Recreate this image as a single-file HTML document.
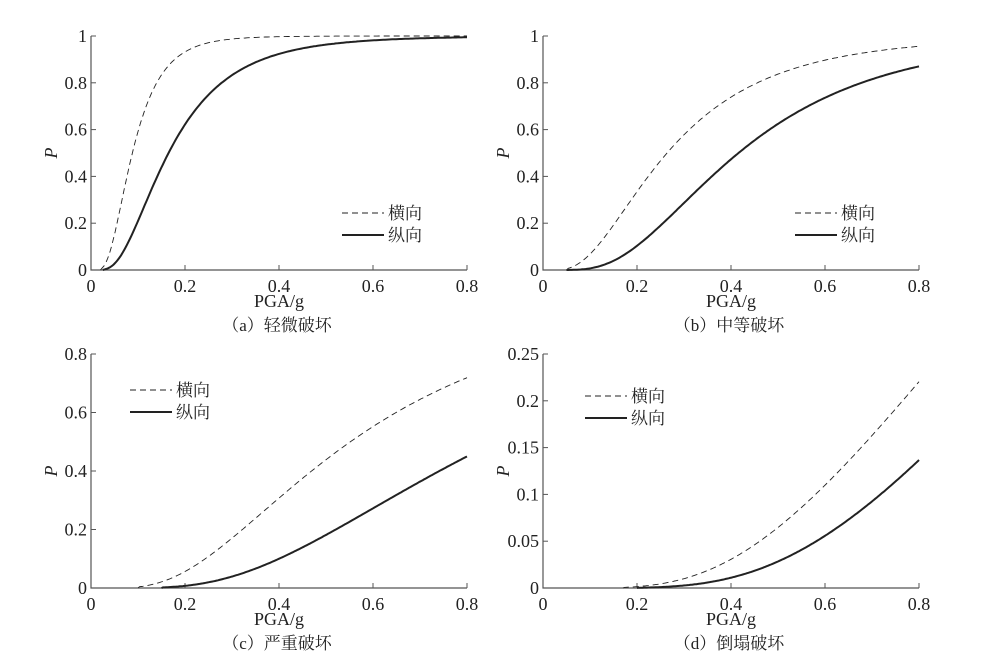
<!DOCTYPE html>
<html><head><meta charset="utf-8"><style>
html,body{margin:0;padding:0;background:#fff;}
svg{display:block;font-family:"Liberation Serif","Times New Roman",Times,serif;}
text{font-family:"Liberation Serif","Times New Roman",Times,serif;fill:#222;}
text.cj{font-family:"Liberation Serif","Noto Serif CJK SC","Noto Sans CJK SC",serif;}
</style></head><body>
<svg id="s" width="997" height="669" viewBox="0 0 997 669" xmlns="http://www.w3.org/2000/svg"></svg>
<script>
function erf(x){var s=x<0?-1:1;x=Math.abs(x);var t=1/(1+0.3275911*x);
var y=1-(((((1.061405429*t-1.453152027)*t)+1.421413741)*t-0.284496736)*t+0.254829592)*t*Math.exp(-x*x);return s*y;}
function Phi(z){return 0.5*(1+erf(z/Math.SQRT2));}
var S=document.getElementById('s'),h='';
var F=' font-family="Liberation Serif, Times New Roman, serif"';
var panels=[
 {x0:91,x1:467,y0:270,y1:36,ymax:1,yt:[0,0.2,0.4,0.6,0.8,1],yl:['0','0.2','0.4','0.6','0.8','1'],
  d:[0.088,0.55,0.02],s:[0.165,0.62,0.025],cap:'（a）轻微破坏',lg:[342,213],plx:57},
 {x0:543,x1:919,y0:270,y1:36,ymax:1,yt:[0,0.2,0.4,0.6,0.8,1],yl:['0','0.2','0.4','0.6','0.8','1'],
  d:[0.264,0.65,0.05],s:[0.416,0.58,0.05],cap:'（b）中等破坏',lg:[795,213],plx:509},
 {x0:91,x1:467,y0:588,y1:354,ymax:0.8,yt:[0,0.2,0.4,0.6,0.8],yl:['0','0.2','0.4','0.6','0.8'],
  d:[0.552,0.64,0.1],s:[0.863,0.6,0.15],cap:'（c）严重破坏',lg:[130,390],plx:57},
 {x0:543,x1:919,y0:588,y1:354,ymax:0.25,yt:[0,0.05,0.1,0.15,0.2,0.25],yl:['0','0.05','0.1','0.15','0.2','0.25'],
  d:[1.3,0.63,0.17],s:[1.51,0.58,0.2],cap:'（d）倒塌破坏',lg:[585,396],plx:509}];
panels.forEach(function(p){
 var X=function(v){return p.x0+(p.x1-p.x0)*v/0.8;},Y=function(v){return p.y0-(p.y0-p.y1)*v/p.ymax;};
 h+='<path d="M'+p.x0+' '+p.y1+'V'+p.y0+'H'+p.x1+'" fill="none" stroke="#555" stroke-width="1.2"/>';
 p.yt.forEach(function(v,i){var y=Y(v);h+='<line x1="'+p.x0+'" y1="'+y+'" x2="'+(p.x0+5)+'" y2="'+y+'" stroke="#555"/>';
  h+='<text'+F+' x="'+(p.x0-4)+'" y="'+(y+6)+'" font-size="18" text-anchor="end">'+p.yl[i]+'</text>';});
 [0,0.2,0.4,0.6,0.8].forEach(function(v){var x=X(v);h+='<line x1="'+x+'" y1="'+p.y0+'" x2="'+x+'" y2="'+(p.y0-5)+'" stroke="#555"/>';
  h+='<text'+F+' x="'+x+'" y="'+(p.y0+22)+'" font-size="18" text-anchor="middle">'+v+'</text>';});
 var cx=(p.x0+p.x1)/2;
 h+='<text'+F+' x="'+cx+'" y="'+(p.y0+37)+'" font-size="18" text-anchor="middle">PGA/g</text>';
 h+='<text class="cj" x="'+(cx-2)+'" y="'+(p.y0+61)+'" font-size="17" text-anchor="middle">'+p.cap+'</text>';
 var py=(p.y0+p.y1)/2;
 h+='<text'+F+' x="'+p.plx+'" y="'+py+'" font-size="18" font-style="italic" text-anchor="middle" transform="rotate(-90 '+p.plx+' '+py+')">P</text>';
 [['d','0.9','6,4'],['s','2','']].forEach(function(c){var q=p[c[0]],pts=[];
  for(var i=0;i<=200;i++){var v=q[2]+(0.8-q[2])*i/200;var P=Phi(Math.log(v/q[0])/q[1]);if(i==0)P=0;pts.push(X(v).toFixed(1)+','+Y(P).toFixed(1));}
  h+='<polyline points="'+pts.join(' ')+'" fill="none" stroke="#222" stroke-width="'+c[1]+'"'+(c[2]?' stroke-dasharray="'+c[2]+'"':'')+'/>';});
 var lx=p.lg[0],ly=p.lg[1];
 h+='<line x1="'+lx+'" y1="'+ly+'" x2="'+(lx+42)+'" y2="'+ly+'" stroke="#222" stroke-width="0.9" stroke-dasharray="6,4"/>';
 h+='<line x1="'+lx+'" y1="'+(ly+22)+'" x2="'+(lx+42)+'" y2="'+(ly+22)+'" stroke="#222" stroke-width="2"/>';
 h+='<text class="cj" x="'+(lx+46)+'" y="'+(ly+6)+'" font-size="17">横向</text>';
 h+='<text class="cj" x="'+(lx+46)+'" y="'+(ly+28)+'" font-size="17">纵向</text>';
});
S.innerHTML=h;
</script>
</body></html>
